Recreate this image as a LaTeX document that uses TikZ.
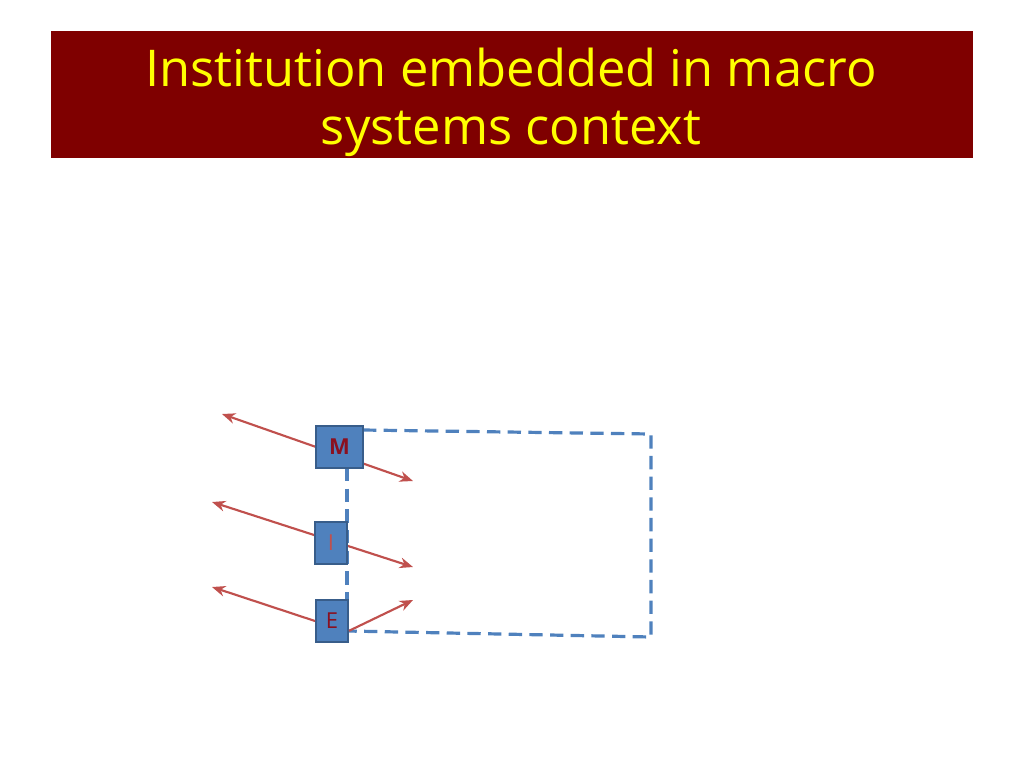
\documentclass[tikz,border=0pt]{standalone}
\usepackage{fontspec}
\setmainfont{Open Sans}
\usetikzlibrary{arrows.meta}
\definecolor{titlered}{HTML}{7F0000}
\definecolor{titleyellow}{HTML}{FFFF00}
\definecolor{boxblue}{HTML}{4F81BD}
\definecolor{boxedge}{HTML}{385D8A}
\definecolor{linkred}{HTML}{C0504D}
\definecolor{letterred}{HTML}{8A1020}
\tikzset{
  level/.style={draw=boxedge, line width=1.5pt, fill=boxblue, inner sep=0pt,
    minimum height=31.5pt, text=letterred, font=\fontsize{16.5}{18}\selectfont},
  link/.style={draw=linkred, line width=1.6pt, -{Stealth[length=10pt,width=8pt]}},
  twoway/.style={draw=linkred, line width=1.6pt,
    {Stealth[length=10pt,width=8pt]}-{Stealth[length=10pt,width=8pt]}},
  frame/.style={draw=boxblue, line width=2.4pt, dash pattern=on 10pt off 5.5pt}
}
\begin{document}
\begin{tikzpicture}[x=0.75pt,y=-0.75pt]
  \useasboundingbox (0,0) rectangle (1024,768);
  \fill[titlered] (51,31) rectangle (973,158);
  \node[text=titleyellow, align=center, font=\fontsize{38}{43.5}\selectfont]
    (title) at (511,102) {Institution embedded in macro\\systems context};
  % free ends of the arrows
  \coordinate (mL) at (222,414);
  \coordinate (mR) at (413,481);
  \coordinate (iL) at (212,502);
  \coordinate (iR) at (413,567);
  \coordinate (eL) at (212,587);
  \coordinate (eR) at (413,600);
  % corners of the dashed frame
  \coordinate (ftl) at (363,430);
  \coordinate (ftr) at (651,434);
  \coordinate (fbr) at (651,637);
  \coordinate (fbl) at (348,631);
  \coordinate (vtop) at (347,468);
  \coordinate (vbot) at (347,600);
  \draw[frame] (ftl) -- (ftr) -- (fbr) -- (fbl);
  \draw[frame] (vtop) -- (vbot);
  \draw[twoway] (mL) -- (mR);
  \draw[twoway] (iL) -- (iR);
  \node[level, minimum width=35.25pt, font=\fontsize{16.5}{18}\selectfont\bfseries] (M) at (339.5,447) {M};
  \node[level, minimum width=24pt, text=linkred] (I) at (331,543) {I};
  \node[level, minimum width=24pt] (E) at (332,621) {E};
  \draw[link] (E.west) -- (eL);
  \draw[link] (E.-30) -- (eR);
\end{tikzpicture}
\end{document}
